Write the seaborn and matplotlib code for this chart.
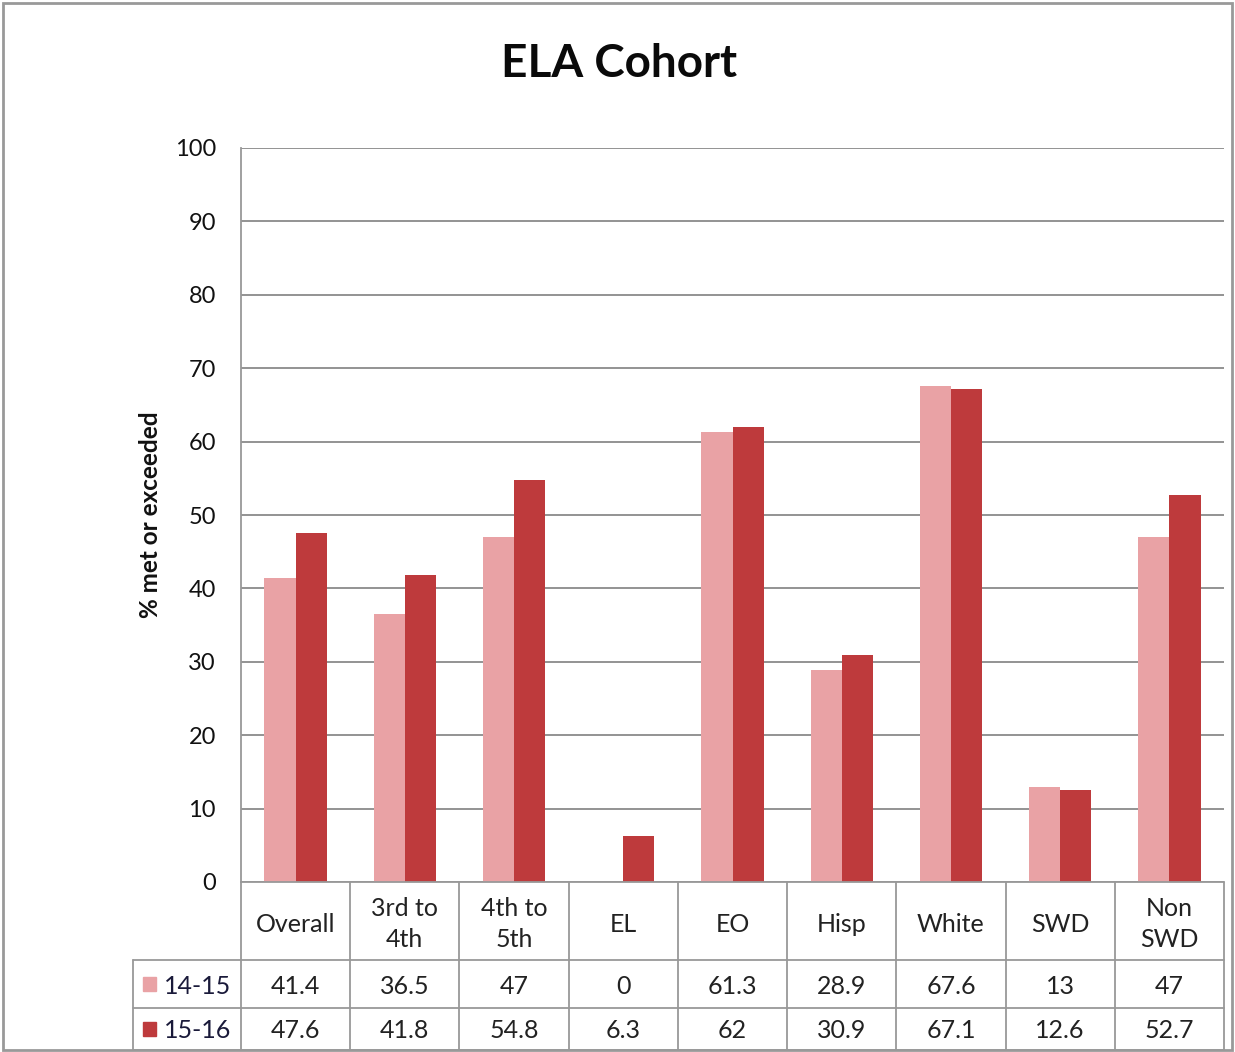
import pandas as pd
import matplotlib
matplotlib.use("Agg")
import matplotlib.pyplot as plt
import matplotlib.transforms as mtransforms
from matplotlib.patches import Rectangle
import seaborn as sns

# chart data
groups = ["Overall", "3rd to\n4th", "4th to\n5th", "EL", "EO", "Hisp", "White", "SWD", "Non\nSWD"]
years = ["14-15", "15-16"]
vals_1415 = [41.4, 36.5, 47, 0, 61.3, 28.9, 67.6, 13, 47]
vals_1516 = [47.6, 41.8, 54.8, 6.3, 62, 30.9, 67.1, 12.6, 52.7]
yticks = list(range(0, 101, 10))

colors = {"14-15": "#E9A2A5", "15-16": "#BE3A3C"}

df = pd.DataFrame({
    "group": groups * 2,
    "year": [years[0]] * len(groups) + [years[1]] * len(groups),
    "value": vals_1415 + vals_1516,
})

sns.set_style("white")
plt.rcParams["font.family"] = ["Lato", "DejaVu Sans"]

W, H = 1235, 1052
fig = plt.figure(figsize=(W / 100, H / 100), dpi=100)

# plot area in pixels
L, R, T, B = 241, 1224, 148, 882
ax = fig.add_axes([L / W, 1 - B / H, (R - L) / W, (B - T) / H])

sns.barplot(data=df, x="group", y="value", hue="year", palette=colors,
            width=0.57, saturation=1, legend=False, ax=ax, zorder=3,
            linewidth=0, edgecolor="none")

ax.set_ylim(0, 100)
ax.set_xlim(-0.5, len(groups) - 0.5)
ax.set_yticks(yticks)
ax.set_yticklabels([str(t) for t in yticks], fontsize=17, color="#111111")
ax.tick_params(axis="y", length=6, width=1.2, color="#888888", pad=12)
ax.set_xticks([])
ax.set_xlabel("")
ax.set_ylabel("% met or exceeded", fontsize=17.5, fontweight="bold", labelpad=9,
              color="#111111")
ax.yaxis.grid(True, color="#8a8a8a", linewidth=1.3, zorder=0)
for s in ["top", "right", "bottom"]:
    ax.spines[s].set_visible(False)
ax.spines["left"].set_color("#999999")
ax.spines["left"].set_linewidth(1.3)

fig.text(619 / W, 1 - 64 / H, "ELA Cohort", fontsize=33, fontweight="bold",
         ha="center", va="center", color="#0a0a0a")

# data table below the axes
blend = mtransforms.blended_transform_factory(ax.transData, fig.transFigure)

def fy(py):
    return 1 - py / H

def fx(px):
    return px / W

line_kw = dict(color="#999999", linewidth=1.3, clip_on=False)
y_head, y_r1, y_r2 = 960, 1008, 1050
n = len(groups)
tfs = 18

# horizontal lines
fig.add_artist(plt.Line2D([fx(L), fx(R)], [fy(B), fy(B)], **line_kw))
for yy in [y_head, y_r1, y_r2]:
    fig.add_artist(plt.Line2D([fx(133), fx(R)], [fy(yy), fy(yy)], **line_kw))
# vertical lines
for i in range(n + 1):
    xx = i - 0.5
    ax.add_artist(plt.Line2D([xx, xx], [fy(B), fy(y_r2)], transform=blend, **line_kw))
fig.add_artist(plt.Line2D([fx(133), fx(133)], [fy(y_head), fy(y_r2)], **line_kw))

for i, g in enumerate(groups):
    ax.text(i, fy((B + y_head) / 2 + 3), g, transform=blend, ha="center", va="center",
            fontsize=tfs, color="#222222", linespacing=1.45)
    ax.text(i, fy((y_head + y_r1) / 2 + 2), f"{vals_1415[i]:g}", transform=blend,
            ha="center", va="center", fontsize=tfs, color="#222222")
    ax.text(i, fy((y_r1 + y_r2) / 2 + 2), f"{vals_1516[i]:g}", transform=blend,
            ha="center", va="center", fontsize=tfs, color="#222222")

# legend keys in the table
for yr, (ya, yb) in zip(years, [(y_head, y_r1), (y_r1, y_r2)]):
    yc = (ya + yb) / 2
    fig.add_artist(Rectangle((fx(143), fy(yc + 7)), 13 / W, 14 / H,
                             color=colors[yr], transform=fig.transFigure))
    fig.text(fx(164), fy(yc + 2), yr, fontsize=tfs, color="#1a1a3a", va="center", ha="left")

# outer border
fig.add_artist(Rectangle((fx(3), fy(1050)), (1229) / W, (1047) / H, fill=False,
                         edgecolor="#999999", linewidth=2, transform=fig.transFigure))

fig.savefig("out.png", dpi=100)
